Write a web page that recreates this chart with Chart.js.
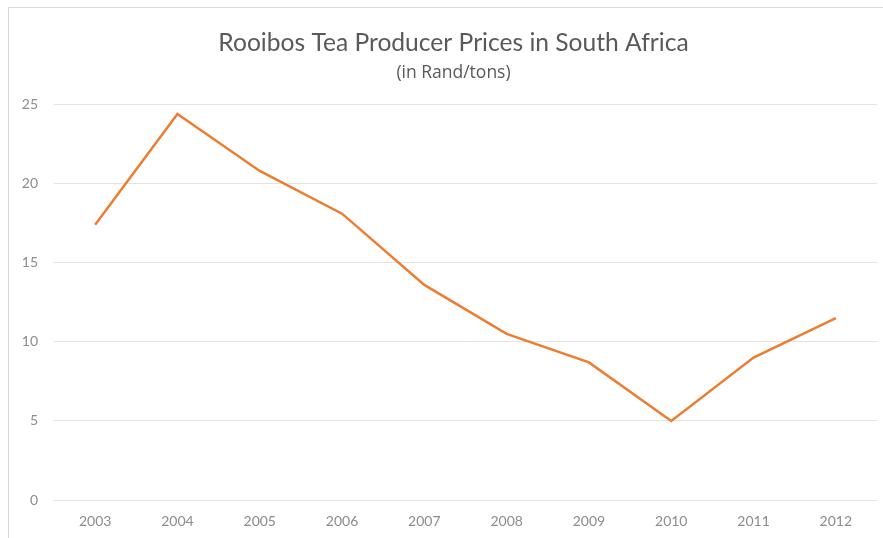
<!DOCTYPE html>
<html>
<head>
<meta charset="utf-8">
<script src="https://cdn.jsdelivr.net/npm/chart.js@4/dist/chart.umd.min.js"></script>
<style>
  html, body { margin: 0; padding: 0; background: #ffffff; overflow: hidden; }
  #wrap { position: relative; width: 883px; height: 538px; overflow: hidden; }
  #frame { position: absolute; left: 8px; top: 7px; right: -2px; bottom: -2px;
           border-left: 1px solid #d9d9d9; border-top: 1px solid #d9d9d9; pointer-events: none; }
  canvas { position: absolute; left: 0; top: 0; }
</style>
</head>
<body>
<div id="wrap">
  <canvas id="c" width="883" height="538"></canvas>
  <div id="frame"></div>
</div>
<script>
const years = ["2003","2004","2005","2006","2007","2008","2009","2010","2011","2012"];
const prices = [17.4, 24.4, 20.8, 18.1, 13.6, 10.5, 8.7, 5.0, 9.0, 11.5];
const yTicks = [0, 5, 10, 15, 20, 25];

const FONT = "Lato, 'Open Sans', sans-serif";

// shift the title/subtitle boxes slightly right, as in the reference
const titleShift = {
  id: 'titleShift',
  afterLayout(chart) {
    chart.boxes.forEach(b => {
      if (b.position === 'top' && b.options && typeof b.options.text === 'string') {
        b.left += 11; b.right += 11;
      }
    });
  }
};

new Chart(document.getElementById('c'), {
  type: 'line',
  data: {
    labels: years,
    datasets: [{
      label: 'Price',
      data: prices,
      borderColor: '#ED7D31',
      backgroundColor: '#ED7D31',
      borderWidth: 2.5,
      pointRadius: 0,
      tension: 0,
      fill: false
    }]
  },
  plugins: [titleShift],
  options: {
    responsive: false,
    animation: false,
    layout: { padding: { left: 8, right: 6, top: 0, bottom: 0 } },
    plugins: {
      legend: { display: false },
      tooltip: { enabled: false },
      title: {
        display: true,
        text: 'Rooibos Tea Producer Prices in South Africa',
        color: '#595959',
        font: { family: FONT, size: 24.6, weight: 'normal' },
        padding: { top: 28, bottom: 5 }
      },
      subtitle: {
        display: true,
        text: '(in Rand/tons)',
        color: '#595959',
        font: { family: "'Open Sans', Lato, sans-serif", size: 17.5, weight: 'normal' },
        padding: { top: 0, bottom: 21 }
      }
    },
    scales: {
      x: {
        offset: true,
        afterFit: (axis) => { axis.height = 38; },
        grid: { display: false, drawTicks: false },
        border: { display: false },
        ticks: { color: '#8c8c8c', font: { family: FONT, size: 14 }, padding: 13, maxRotation: 0 }
      },
      y: {
        min: 0,
        max: 25,
        afterBuildTicks: (axis) => { axis.ticks = yTicks.map(v => ({ value: v })); },
        afterFit: (axis) => { axis.width = 46; },
        grid: { color: '#e3e3e3', lineWidth: 1, drawTicks: false },
        border: { display: false },
        ticks: { color: '#8c8c8c', font: { family: FONT, size: 14 }, padding: 16 }
      }
    }
  }
});
</script>
</body>
</html>
